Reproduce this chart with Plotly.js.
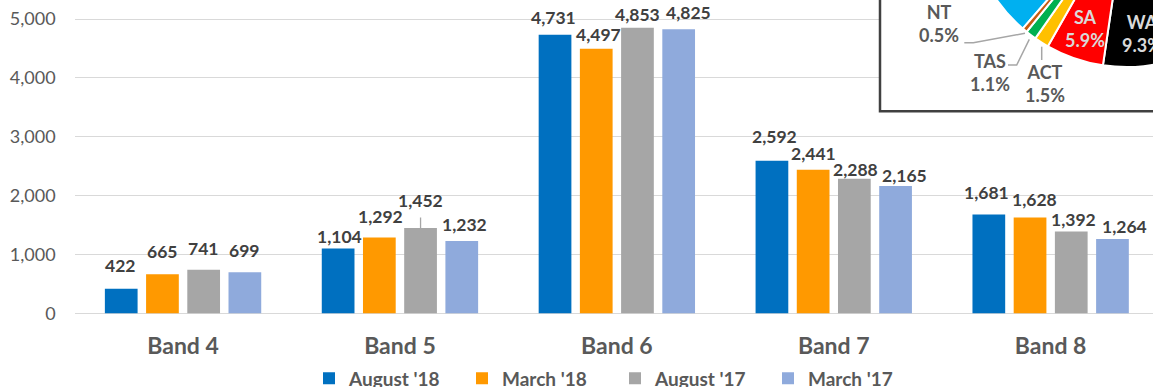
<!DOCTYPE html>
<html><head><meta charset="utf-8">
<script src="https://cdn.plot.ly/plotly-3.0.1.min.js"></script>
<style>
html,body{margin:0;padding:0;overflow:hidden;width:1153px;height:387px;background:#fff}
#chart{position:absolute;left:0;top:-260px;width:1300px;height:707px}
</style></head><body><div id="chart"></div>
<script>
// Headcount by classification band
const bands = ['Band 4', 'Band 5', 'Band 6', 'Band 7', 'Band 8'];
const seriesNames = ["August '18", "March '18", "August '17", "March '17"];
const aug18 = [422, 1104, 4731, 2592, 1681];
const mar18 = [665, 1292, 4497, 2441, 1628];
const aug17 = [741, 1452, 4853, 2288, 1392];
const mar17 = [699, 1232, 4825, 2165, 1264];

// Share of staff by state (inset pie)
const states = ['NSW', 'VIC', 'QLD', 'WA', 'SA', 'ACT', 'TAS', 'NT'];
const statePct = [30.2, 28.6, 22.9, 9.3, 5.9, 1.5, 1.1, 0.5];

// ---- presentation ----
const FONT = 'Lato, "Open Sans", sans-serif';
const barColors = ['#0070C0', '#FF9900', '#A6A6A6', '#8FAADC'];
const stateColors = ['#00B0F0', '#002060', '#7030A0', '#000000', '#FF0000', '#FFC000', '#00B050', '#C55A11'];

// Canvas geometry (px). The canvas is larger than the view and shifted up, so the
// inset pie and the top of the value axis run past the visible edges.
const W = 1300, H = 707, OFFY = 260;
const plotL = 74.6, catW = 216.9, plotR = plotL + 5 * catW;
const zeroY = 313.5 + OFFY, pxPerK = 58.9, yMax = 5600;
const topY = zeroY - yMax / 1000 * pxPerK;
const px = x => x / W;
const py = y => (H - (y + OFFY)) / H;

// Bar grouping
const bargap = 0.24, bargroupgap = 0.206;
const slot = (1 - bargap) / 4;

// Data-label nudges: gap (px) between bar top and label baseline, and sideways nudge (px)
const labelGap = [
  [15, 4.3, 9.3, 16.7, 13.7],
  [15, 13.3, 6.3, 8, 10],
  [13.7, 21, 5.7, 1.7, 4.3],
  [14, 9, 8.7, 2.7, 5]
];
const labelNudge = [
  [-1, 1, -1.5, 3, -2],
  [0, 1, 2, 0, 4],
  [-1, 0, 0, 1.5, 2],
  [-1, 3, 10, 9, 12]
];
const leaderLabels = [[2, 1]]; // labels joined to their bar with a short line
const DESC = 4.6;

const allSeries = [aug18, mar18, aug17, mar17];

const traces = allSeries.map((vals, j) => ({
  type: 'bar', x: bands, y: vals, name: seriesNames[j],
  marker: {color: barColors[j]}, hoverinfo: 'skip'
}));

traces.push({
  type: 'pie', labels: states, values: statePct, sort: false,
  direction: 'clockwise', rotation: -139.2, textinfo: 'none',
  marker: {colors: stateColors, line: {color: '#ffffff', width: 2}},
  showlegend: false, hoverinfo: 'skip',
  domain: {x: [px(1126 - 158), px(1126 + 158)], y: [py(-91 + 158), py(-91 - 158)]}
});

const annotations = [];
allSeries.forEach((vals, j) => {
  vals.forEach((v, i) => {
    const isLeader = leaderLabels.some(p => p[0] === j && p[1] === i);
    const a = {
      x: i + (j - 1.5) * slot, y: v, xref: 'x', yref: 'y',
      text: v.toLocaleString('en-US'),
      font: {family: FONT, size: 17.5, color: '#404040', weight: 700},
      xshift: labelNudge[j][i]
    };
    if (isLeader) {
      Object.assign(a, {showarrow: true, arrowhead: 0, arrowwidth: 1.3, arrowcolor: '#A6A6A6',
        ax: 0, ay: -(labelGap[j][i] + 6.6), startstandoff: 5});
    } else {
      Object.assign(a, {showarrow: false, yanchor: 'bottom', yshift: labelGap[j][i] - DESC});
    }
    annotations.push(a);
  });
});

// Pie labels
const pieLabelPos = {NT: [939, 23.7, '#595959'], TAS: [989.5, 72, '#595959'], ACT: [1045, 83.3, '#595959'],
                     SA: [1084.5, 28.5, '#D9D9D9'], WA: [1142, 33.5, '#D9D9D9']};
states.forEach((s, k) => {
  const p = pieLabelPos[s];
  if (!p) return;
  annotations.push({
    xref: 'paper', yref: 'paper', x: px(p[0]), y: py(p[1]), xanchor: 'center', yanchor: 'middle',
    showarrow: false, align: 'center',
    text: s + '<br>' + statePct[k].toFixed(1) + '%',
    font: {family: FONT, size: 18, color: p[2], weight: 700}
  });
});

const pathOf = pts => 'M' + pts.map(p => px(p[0]) + ',' + py(p[1])).join(' L');
const leader = pts => ({type: 'path', xref: 'paper', yref: 'paper', layer: 'above',
  path: pathOf(pts), line: {color: '#A6A6A6', width: 1.5}});

const shapes = [
  // inset frame
  {type: 'rect', xref: 'x', yref: 'y', layer: 'between',
   x0: (880 - plotL) / catW - 0.5, x1: 4.5, y0: (313.5 - 111.3) / pxPerK * 1000, y1: yMax,
   fillcolor: '#ffffff', line: {color: '#404040', width: 2.5}},
  leader([[964.3, 42.7], [973.3, 42.7], [1025, 33.3]]),
  leader([[1008, 65], [1016.7, 65], [1029.3, 39.3]]),
  leader([[1041.7, 46.7], [1041.7, 60]])
];

const layout = {
  width: W, height: H, margin: {l: 0, r: 0, t: 0, b: 0, pad: 0},
  paper_bgcolor: '#ffffff', plot_bgcolor: '#ffffff',
  barmode: 'group', bargap: bargap, bargroupgap: bargroupgap,
  font: {family: FONT, color: '#595959'},
  xaxis: {domain: [px(plotL), px(plotR)], type: 'category', range: [-0.5, 4.5], autorange: false,
          showgrid: false, zeroline: false, showline: false, ticks: '', ticklabelstandoff: 16,
          tickfont: {family: FONT, size: 23, color: '#595959', weight: 700}},
  yaxis: {domain: [(H - zeroY) / H, (H - topY) / H], range: [0, yMax], autorange: false, dtick: 1000,
          tickformat: ',d', showgrid: true, gridcolor: '#D9D9D9', gridwidth: 1,
          zeroline: true, zerolinecolor: '#D9D9D9', zerolinewidth: 1, showline: false,
          ticks: '', ticklabelstandoff: 18,
          tickfont: {family: FONT, size: 18, color: '#595959'}},
  showlegend: true,
  legend: {orientation: 'h', x: px(309), xanchor: 'left', y: py(378.5), yanchor: 'middle',
           entrywidth: 108, entrywidthmode: 'pixels', traceorder: 'normal',
           font: {family: FONT, size: 19, color: '#595959', weight: 700}},
  annotations: annotations,
  shapes: shapes
};

Plotly.newPlot('chart', traces, layout, {staticPlot: true, displayModeBar: false});
</script>
</body></html>
